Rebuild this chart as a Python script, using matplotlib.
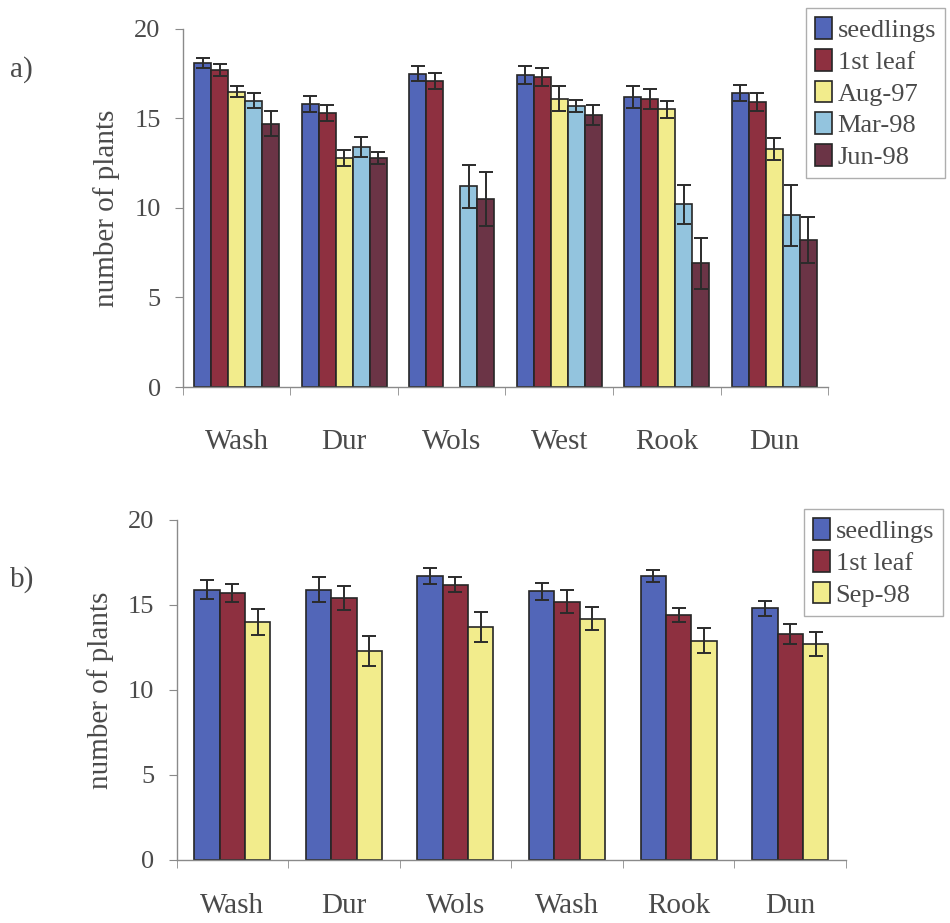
import numpy as np
import matplotlib
matplotlib.use("Agg")
import matplotlib.pyplot as plt

plt.rcParams['font.family'] = ['Liberation Serif', 'DejaVu Serif']

# panel a data
sites_a = ['Wash', 'Dur', 'Wols', 'West', 'Rook', 'Dun']
series_a = ['seedlings', '1st leaf', 'Aug-97', 'Mar-98', 'Jun-98']
seedlings_a = [18.1, 15.8, 17.5, 17.4, 16.2, 16.4]
leaf1_a = [17.7, 15.3, 17.1, 17.3, 16.1, 15.9]
aug97_a = [16.5, 12.8, np.nan, 16.1, 15.5, 13.3]
mar98_a = [16.0, 13.4, 11.2, 15.7, 10.2, 9.6]
jun98_a = [14.7, 12.8, 10.5, 15.2, 6.9, 8.2]
err_seedlings_a = [0.3, 0.45, 0.4, 0.5, 0.6, 0.45]
err_leaf1_a = [0.35, 0.45, 0.45, 0.5, 0.55, 0.5]
err_aug97_a = [0.3, 0.45, np.nan, 0.7, 0.5, 0.6]
err_mar98_a = [0.4, 0.55, 1.2, 0.35, 1.1, 1.7]
err_jun98_a = [0.7, 0.35, 1.5, 0.55, 1.4, 1.3]

# panel b data
sites_b = ['Wash', 'Dur', 'Wols', 'Wash', 'Rook', 'Dun']
series_b = ['seedlings', '1st leaf', 'Sep-98']
seedlings_b = [15.9, 15.9, 16.7, 15.8, 16.7, 14.8]
leaf1_b = [15.7, 15.4, 16.2, 15.2, 14.4, 13.3]
sep98_b = [14.0, 12.3, 13.7, 14.2, 12.9, 12.7]
err_seedlings_b = [0.55, 0.75, 0.45, 0.5, 0.35, 0.45]
err_leaf1_b = [0.55, 0.7, 0.45, 0.65, 0.4, 0.6]
err_sep98_b = [0.75, 0.9, 0.9, 0.7, 0.75, 0.7]

colors = {'seedlings': '#5266b8', '1st leaf': '#8e3040', 'Aug-97': '#f2ec8c',
          'Mar-98': '#93c4de', 'Jun-98': '#6b3446', 'Sep-98': '#f2ec8c'}
txt = '#4a4a4a'
axis_col = '#8a8a8a'


def draw_panel(ax, sites, names, values, errors, bar_w, label_pad):
    x = np.arange(len(sites))
    n = len(names)
    handles = []
    for i, (name, vals, errs) in enumerate(zip(names, values, errors)):
        pos = x + (i - (n - 1) / 2) * bar_w
        b = ax.bar(pos, vals, bar_w, color=colors[name], edgecolor='#262626',
                   linewidth=1.2, label=name, zorder=2)
        ax.errorbar(pos, vals, yerr=errs, fmt='none', ecolor='#2b2b2b',
                    elinewidth=1.4, capsize=5, capthick=1.4, zorder=3)
        handles.append(b)
    ax.set_xlim(-0.5, len(sites) - 0.5)
    ax.set_ylim(0, 20)
    ax.set_yticks([0, 5, 10, 15, 20])
    ax.set_xticks(x)
    ax.set_xticklabels(sites, fontsize=21, color=txt)
    ax.set_xticks(np.arange(len(sites) + 1) - 0.5, minor=True)
    ax.tick_params(axis='x', which='major', length=0, pad=label_pad)
    ax.tick_params(axis='x', which='minor', length=6, color=axis_col, direction='out')
    ax.tick_params(axis='y', length=6, color=axis_col, labelsize=19,
                   labelcolor=txt, pad=10)
    for s in ['top', 'right']:
        ax.spines[s].set_visible(False)
    for s in ['left', 'bottom']:
        ax.spines[s].set_color(axis_col)
        ax.spines[s].set_linewidth(1.0)
    ax.set_ylabel('number of plants', fontsize=21, color=txt, labelpad=10)
    return handles


fig = plt.figure(figsize=(9.5, 9.23), dpi=100)

ax_a = fig.add_axes([0.1926, 0.5807, 0.679, 0.388])
h_a = draw_panel(ax_a, sites_a, series_a,
                 [seedlings_a, leaf1_a, aug97_a, mar98_a, jun98_a],
                 [err_seedlings_a, err_leaf1_a, err_aug97_a, err_mar98_a, err_jun98_a],
                 0.158, 30)

ax_b = fig.add_axes([0.1858, 0.0683, 0.7047, 0.3684])
h_b = draw_panel(ax_b, sites_b, series_b,
                 [seedlings_b, leaf1_b, sep98_b],
                 [err_seedlings_b, err_leaf1_b, err_sep98_b],
                 0.227, 24)

leg_kw = dict(fontsize=19, frameon=True, fancybox=False, handlelength=0.65,
              handleheight=0.9, handletextpad=0.2, borderpad=0.35,
              labelspacing=0.25, borderaxespad=0, labelcolor=txt)
la = fig.legend(handles=h_a, labels=series_a, loc='upper left',
                bbox_to_anchor=(806 / 950, 1 - 8 / 923), **leg_kw)
lb = fig.legend(handles=h_b, labels=series_b, loc='upper left',
                bbox_to_anchor=(804 / 950, 1 - 509 / 923), **leg_kw)
for lg in (la, lb):
    lg.get_frame().set_edgecolor('#9a9a9a')
    lg.get_frame().set_linewidth(1.0)

fig.text(10 / 950, 1 - 70 / 923, 'a)', fontsize=21, color=txt, va='center')
fig.text(10 / 950, 1 - 580 / 923, 'b)', fontsize=21, color=txt, va='center')

fig.savefig('out.png', dpi=100)
